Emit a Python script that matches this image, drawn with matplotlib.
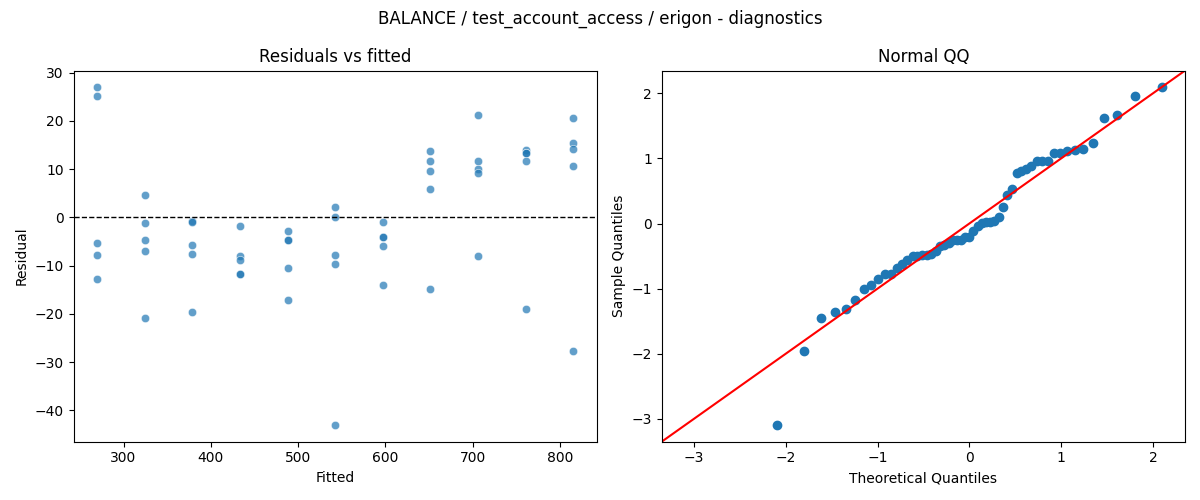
import numpy as np
import matplotlib
matplotlib.use("Agg")
import matplotlib.pyplot as plt
import seaborn as sns
from statistics import NormalDist

# Fitted value levels (one per group) and residuals
fitted_levels = [270.0, 324.5, 379.0, 433.5, 488.0, 542.5, 597.0, 651.5, 706.0, 760.5, 815.0]
residuals_by_level = [
    [26.9, 25.1, -5.4, -7.85, -12.8],
    [4.7, -1.2, -4.6, -7.0, -20.9],
    [-0.75, -0.9, -5.8, -7.7, -19.7],
    [-1.7, -8.1, -8.8, -11.8, -11.8],
    [-2.75, -4.75, -4.8, -10.6, -17.1],
    [2.2, 0.15, -7.85, -9.6, -43.0],
    [-0.9, -4.1, -4.15, -5.85, -14.1],
    [13.8, 11.7, 9.5, 5.9, -14.9],
    [21.1, 11.7, 10.1, 9.2, -8.1],
    [14.0, 13.4, 13.35, 11.7, -19.1],
    [20.6, 15.4, 14.2, 10.7, -27.8],
]

fitted = np.repeat(fitted_levels, [len(r) for r in residuals_by_level])
resid = np.concatenate([np.array(r) for r in residuals_by_level])

fig, (ax1, ax2) = plt.subplots(1, 2, figsize=(12, 5), dpi=100)

sns.scatterplot(x=fitted, y=resid, ax=ax1, alpha=0.7)
ax1.axhline(0, color="black", linestyle="--", linewidth=1)
ax1.set_title("Residuals vs fitted")
ax1.set_xlabel("Fitted")
ax1.set_ylabel("Residual")

# Normal QQ of standardized residuals
n = len(resid)
sample_q = np.sort((resid - resid.mean()) / resid.std())
theo_q = np.array([NormalDist().inv_cdf(i / (n + 1)) for i in range(1, n + 1)])
ax2.plot(theo_q, sample_q, marker="o", linestyle="none", color="C0",
         markeredgecolor="C0", markersize=6)
xl = ax2.get_xlim()
yl = ax2.get_ylim()
lo, hi = min(xl[0], yl[0]), max(xl[1], yl[1])
ax2.plot([lo, hi], [lo, hi], color="red", linewidth=1.5)
ax2.set_xlim(lo, hi)
ax2.set_ylim(lo, hi)
ax2.set_title("Normal QQ")
ax2.set_xlabel("Theoretical Quantiles")
ax2.set_ylabel("Sample Quantiles")

fig.suptitle("BALANCE / test_account_access / erigon - diagnostics")
fig.tight_layout()
fig.savefig("out.png")
